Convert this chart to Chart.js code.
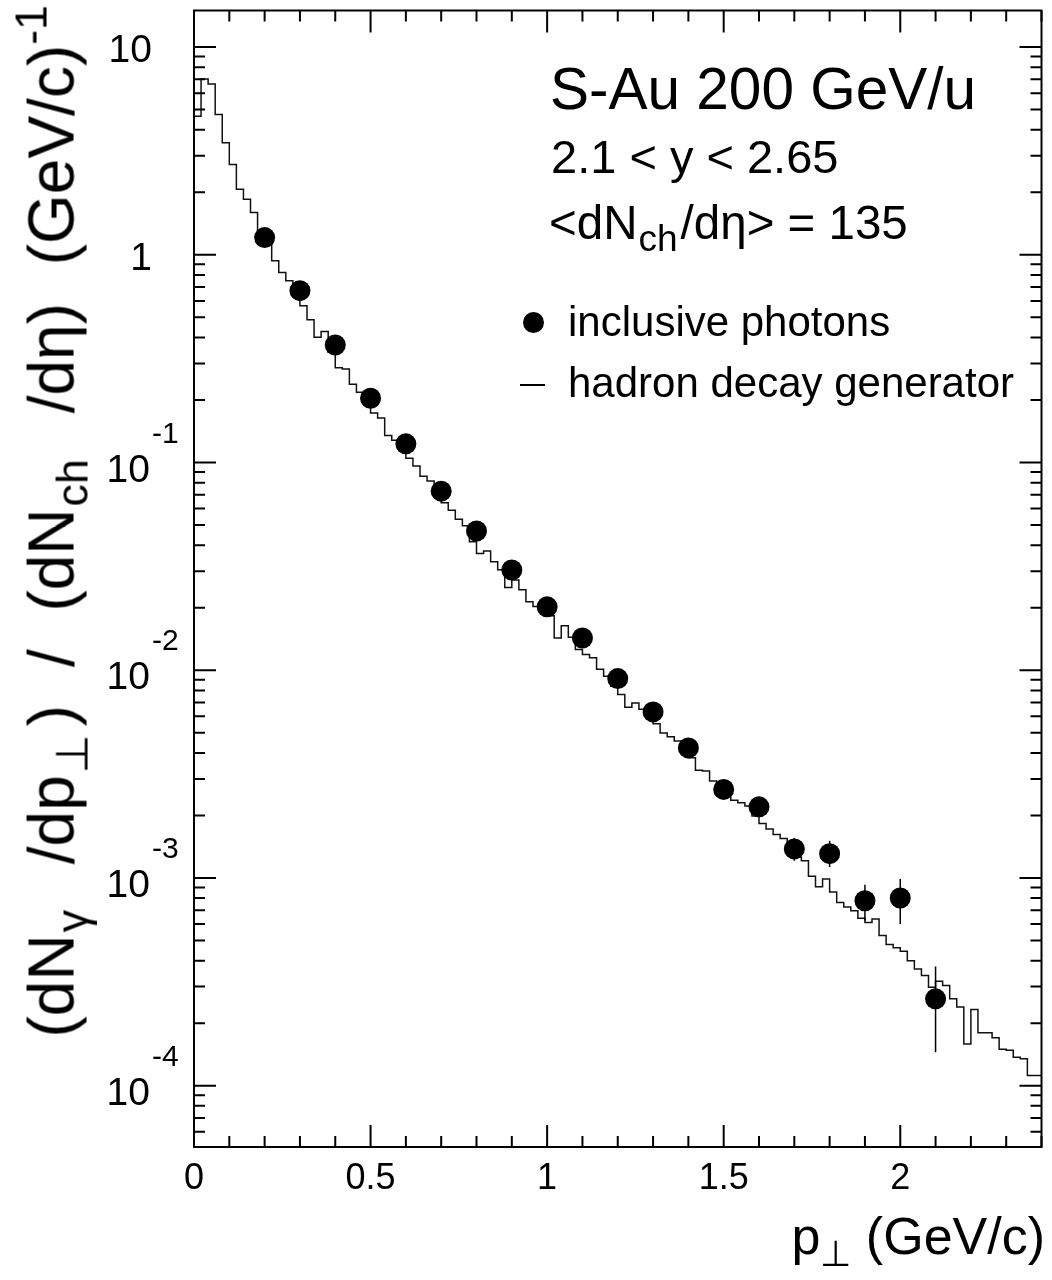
<!DOCTYPE html>
<html><head><meta charset="utf-8">
<script src="https://cdn.jsdelivr.net/npm/chart.js@4.4.0/dist/chart.umd.min.js"></script>
<style>
html,body{margin:0;padding:0;background:#fff;}
#wrap{position:relative;width:1052px;height:1280px;font-family:"Liberation Sans",Arial,Helvetica,sans-serif;color:#000;overflow:hidden;}
canvas{position:absolute;left:0;top:0;}
.t{position:absolute;white-space:nowrap;line-height:1;}
.sub{font-size:0.7em;position:relative;top:0.32em;}
.sup{font-size:0.7em;position:relative;top:-0.6em;}
.ytitle{word-spacing:20px;}
.ytitle .sub{margin-left:2px;margin-right:8px;}
</style></head><body>
<div id="wrap">
<canvas id="c" width="1052" height="1280"></canvas>
<div class="t" style="left:550px;top:60px;font-size:58.5px">S-Au 200 GeV/u</div>
<div class="t" style="left:551px;top:133px;font-size:47px">2.1 &lt; y &lt; 2.65</div>
<div class="t" style="left:549px;top:199px;font-size:47.5px">&lt;dN<span class="sub" style="font-size:0.78em;margin-right:3px;margin-left:1px">ch</span>/dη&gt; = 135</div>
<div style="position:absolute;left:523px;top:312px;width:21px;height:21px;border-radius:50%;background:#000"></div>
<div class="t" style="left:568px;top:301px;font-size:42px">inclusive photons</div>
<div style="position:absolute;left:520px;top:384px;width:25px;height:1.5px;background:#000"></div>
<div class="t" style="left:568px;top:362px;font-size:42px">hadron decay generator</div>
<div class="t" style="right:7px;top:1210px;font-size:52px">p<span class="sub">⊥</span> (GeV/c)</div>
<div class="t ytitle" style="right:1032px;top:5px;font-size:64px;transform-origin:right top;transform:rotate(-90deg)">(dN<span class="sub">γ</span> /dp<span class="sub">⊥</span>) / (dN<span class="sub">ch</span> /dη) (GeV/c)<span class="sup">-1</span></div>
</div>
<script>
// ---------------- data ----------------
const binWidth = 0.02;
// hadron decay generator histogram, one value per 0.02 GeV/c bin from 0 to 2.4
const decayGen = [
1.29, 4.65, 7.02, 6.64, 4.73, 3.46, 2.72, 2.07, 1.85, 1.60,
1.20, 1.12, 0.936, 0.822, 0.750, 0.659, 0.569, 0.487, 0.401, 0.427,
0.340, 0.286, 0.282, 0.238, 0.218, 0.195, 0.173, 0.164, 0.135, 0.128,
0.115, 0.105, 0.0963, 0.0859, 0.0816, 0.0722, 0.0640, 0.0590, 0.0533, 0.0496,
0.0416, 0.0365, 0.0375, 0.0333, 0.0305, 0.0250, 0.0272, 0.0244, 0.0214, 0.0203,
0.0192, 0.0183, 0.0143, 0.0164, 0.0144, 0.0126, 0.0119, 0.0115, 0.0101, 0.00935,
0.00837, 0.00764, 0.00663, 0.00696, 0.00649, 0.00601, 0.00553, 0.00499, 0.00479, 0.00456,
0.00408, 0.00379, 0.00330, 0.00327, 0.00293, 0.00262, 0.00253, 0.00237, 0.00230, 0.00222,
0.00199, 0.00183, 0.00172, 0.00162, 0.00155, 0.00135, 0.00126, 0.00121, 0.00102, 0.000907,
0.000988, 0.000856, 0.000763, 0.000725, 0.000696, 0.000640, 0.000611, 0.000635, 0.000528, 0.000478,
0.000461, 0.000444, 0.000400, 0.000365, 0.000339, 0.000298, 0.000318, 0.000304, 0.000262, 0.000239,
0.000159, 0.000233, 0.000180, 0.000180, 0.000170, 0.000150, 0.000148, 0.000137, 0.000135, 0.000112
];
// inclusive photons
const photonPt = [0.2,0.3,0.4,0.5,0.6,0.7,0.8,0.9,1.0,1.1,1.2,1.3,1.4,1.5,1.6,1.7,1.8,1.9,2.0,2.1];
const photonY  = [1.21,0.672,0.368,0.204,0.123,0.0728,0.0468,0.0304,0.0202,0.0143,0.00912,0.00630,0.00423,0.00267,0.00220,0.00138,0.00131,0.000777,0.000801,0.000262];
const photonErrLo = [null,null,null,null,null,null,null,null,null,null,null,null,null,null,null,0.00121,0.00113,0.000623,0.000601,0.000145];
const photonErrHi = [null,null,null,null,null,null,null,null,null,null,null,null,null,null,null,0.00156,0.00151,0.000927,0.000988,0.000375];
// axes
const xMin = 0, xMax = 2.4, yMin = 5.07e-5, yMax = 15;
const xTickValues = [0,0.5,1,1.5,2];
const xTickLabels = ['0','0.5','1','1.5','2'];
const yTickValues = [10,1,0.1,0.01,0.001,0.0001];
const yTickBase = ['10','1','10','10','10','10'];
const yTickExp  = ['','','-1','-2','-3','-4'];

// ---------------- build ----------------
const histPts = [];
for (let i = 0; i <= decayGen.length; i++) {
  histPts.push({x: +(i*binWidth).toFixed(2), y: decayGen[Math.min(i, decayGen.length-1)]});
}
const photonPts = photonPt.map((x,i)=>({x, y: photonY[i]}));

const FONT = '"Liberation Sans", Arial, Helvetica, sans-serif';

const axesPlugin = {
  id: 'rootAxes',
  afterDatasetsDraw(chart) {
    const {ctx, scales:{x, y}} = chart;
    ctx.save();
    ctx.strokeStyle = '#000';
    ctx.lineWidth = 1.5;
    photonPt.forEach((p,i)=>{
      if (photonErrLo[i] == null) return;
      const px = x.getPixelForValue(p);
      ctx.beginPath();
      ctx.moveTo(px, y.getPixelForValue(photonErrLo[i]));
      ctx.lineTo(px, y.getPixelForValue(photonErrHi[i]));
      ctx.stroke();
    });
    ctx.restore();
  },
  afterDraw(chart) {
    const {ctx, chartArea:a, scales:{x, y}} = chart;
    ctx.save();
    ctx.strokeStyle = '#000';
    ctx.lineWidth = 2;
    ctx.strokeRect(a.left, a.top, a.right - a.left, a.bottom - a.top);
    ctx.beginPath();
    for (let k = 0; k <= 24; k++) {
      const v = k/10;
      if (v > xMax + 1e-9) break;
      const major = xTickValues.some(t => Math.abs(t - v) < 1e-9);
      const len = major ? 22 : 11;
      const px = x.getPixelForValue(v);
      ctx.moveTo(px, a.bottom); ctx.lineTo(px, a.bottom - len);
      ctx.moveTo(px, a.top); ctx.lineTo(px, a.top + len);
    }
    for (let e = -5; e <= 1; e++) {
      for (let m = 1; m <= 9; m++) {
        const v = m * Math.pow(10, e);
        if (v < yMin || v > yMax) continue;
        const len = m === 1 ? 22 : 11;
        const py = y.getPixelForValue(v);
        ctx.moveTo(a.left, py); ctx.lineTo(a.left + len, py);
        ctx.moveTo(a.right, py); ctx.lineTo(a.right - len, py);
      }
    }
    ctx.stroke();
    ctx.fillStyle = '#000';
    ctx.font = '36px ' + FONT;
    ctx.textAlign = 'center';
    ctx.textBaseline = 'alphabetic';
    xTickValues.forEach((v,i)=>{
      ctx.fillText(xTickLabels[i], x.getPixelForValue(v), a.bottom + 42);
    });
    yTickValues.forEach((v,i)=>{
      const py = y.getPixelForValue(v);
      ctx.font = '39px ' + FONT;
      ctx.textAlign = 'right';
      if (yTickExp[i] === '') {
        ctx.fillText(yTickBase[i], 152, py + 15);
      } else {
        ctx.fillText(yTickBase[i], 150, py + 19);
        ctx.font = '30px ' + FONT;
        ctx.textAlign = 'left';
        ctx.fillText(yTickExp[i], 152, py - 20);
      }
    });
    ctx.restore();
  }
};

new Chart(document.getElementById('c'), {
  type: 'line',
  data: {
    datasets: [
      { label: 'inclusive photons', data: photonPts, showLine: false,
        pointRadius: 10.5, pointBackgroundColor: '#000', pointBorderWidth: 0, pointBorderColor: '#000' },
      { label: 'hadron decay generator', data: histPts, stepped: 'after',
        borderColor: '#111', borderWidth: 1.5, pointRadius: 0, fill: false }
    ]
  },
  options: {
    responsive: false,
    animation: false,
    events: [],
    layout: { padding: { left: 194, right: 4, top: 8, bottom: 133 } },
    plugins: { legend: { display: false }, tooltip: { enabled: false } },
    scales: {
      x: { type: 'linear', min: xMin, max: xMax, display: false },
      y: { type: 'logarithmic', min: yMin, max: yMax, display: false }
    }
  },
  plugins: [axesPlugin]
});
</script>
</body></html>
